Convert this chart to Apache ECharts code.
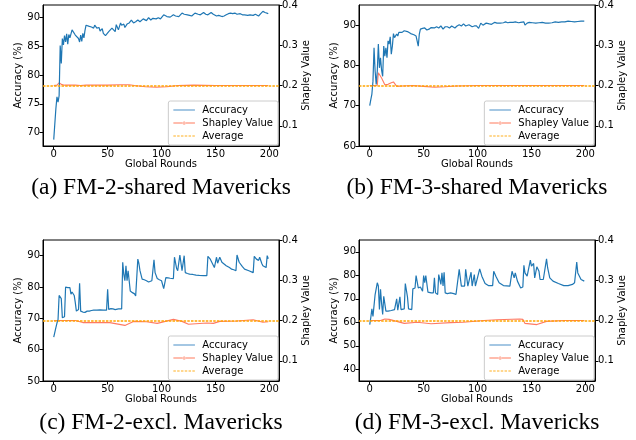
<!DOCTYPE html>
<html>
<head>
<meta charset="utf-8">
<script src="https://cdn.jsdelivr.net/npm/echarts@6/dist/echarts.min.js"></script>
<style>
html, body { margin: 0; padding: 0; background: #fff; }
#chart { width: 636px; height: 440px; }
</style>
</head>
<body>
<div id="chart"></div>
<script>
// tick labels
const xTicks = [0, 50, 100, 150, 200];
const shapTicks = [0.1, 0.2, 0.3, 0.4];
const accTicksA = [70, 75, 80, 85, 90];
const accTicksB = [60, 70, 80, 90];
const accTicksC = [50, 60, 70, 80, 90];
const accTicksD = [40, 50, 60, 70, 80, 90];

const legendNames = ['Accuracy', 'Shapley Value', 'Average'];
const captions = ['(a) FM-2-shared Mavericks', '(b) FM-3-shared Mavericks',
  '(c) FM-2-excl. Mavericks', '(d) FM-3-excl. Mavericks'];

// average shapley value (5 clients)
const avgShapley = 0.2;

// (a) FM-2-shared: [round, accuracy %]
const accA = [[0,68.8],[1,71.5],[2,74.2],[3,76.2],[4,75.3],[5,76.4],[6,85.1],[7,82],[8,86.3],[9,85.2],[10,86.8],[11,85.7],[12,87.1],[13,85.3],[14,87],[15,86.4],[16,86.2],[17,87.8],[18,87.5],[20,86.9],[21,86.6],[23,86.3],[24,85.7],[25,86.9],[26,85.8],[27,87.2],[28,86.4],[29,87.7],[30,88.6],[33,88.4],[35,88.3],[37,88.1],[38,88.6],[40,88.1],[42,88.2],[43,87.6],[45,88],[46,87.2],[48,86.8],[49,86.5],[51,87.5],[52,87.6],[54,88.1],[55,88.4],[57,87.5],[58,88.7],[60,87.8],[62,89],[63,88.6],[65,88.8],[66,88.2],[68,88.8],[70,89],[72,89.5],[74,89],[76,89.2],[78,89.5],[80,89.2],[83,89.7],[86,89.4],[88,89.9],[90,89.5],[92,89.8],[95,89.7],[97,89.9],[99,89.7],[100,89.6],[102,90.4],[105,90.1],[108,90],[111,90.4],[113,90.2],[116,90.1],[119,90.7],[121,90.5],[124,90.4],[126,90.3],[128,90.2],[131,90.7],[134,90.5],[136,90.4],[139,90.8],[141,90.5],[143,90.4],[146,90.8],[148,90.5],[151,90.2],[153,90.3],[156,90.1],[158,90.2],[160,90.4],[162,90.6],[164,90.7],[166,90.6],[168,90.7],[170,90.5],[173,90.6],[175,90.4],[177,90.4],[180,90.3],[182,90.4],[185,90.3],[187,90.5],[190,90.2],[192,90.6],[194,91],[196,90.8],[199,90.6]];
const shapA = [[0,0.2],[3,0.201],[5,0.207],[7,0.203],[10,0.201],[20,0.201],[25,0.2],[30,0.201],[40,0.201],[50,0.201],[60,0.202],[70,0.202],[75,0.2],[85,0.197],[95,0.196],[105,0.197],[115,0.2],[130,0.201],[150,0.2],[170,0.2],[199,0.2]];

// (b) FM-3-shared
const accB = [[0,70],[1,71.5],[2,72.9],[3,76.1],[4,84.4],[5,78.6],[6,75.3],[7,78.6],[8,85.3],[9,79.4],[10,81.9],[11,78.8],[12,77.3],[13,84.8],[14,82.3],[15,84.4],[16,81.9],[17,86.1],[18,85.3],[19,87.1],[20,82.8],[21,84.8],[22,87.9],[23,86.9],[24,87.3],[25,87.8],[26,87.3],[27,88.2],[28,87.9],[30,88.2],[32,88.6],[33,89],[35,88.4],[36,88.2],[38,87.9],[39,87.8],[41,87.6],[43,87.3],[44,86.9],[45,84.8],[46,87.8],[47,89],[49,89.2],[51,89.3],[53,88.8],[55,89],[57,89.4],[58,89.8],[60,89.3],[62,89.6],[64,89.3],[66,89.8],[68,89],[70,89.6],[72,89.6],[74,89.3],[76,89.8],[79,89.3],[81,89.8],[83,90.1],[85,89.8],[87,90.3],[89,89.8],[92,90.1],[95,89.6],[97,89.8],[99,89.8],[101,89.2],[103,90.5],[105,90],[108,90.5],[111,90.3],[113,90.2],[116,90.7],[118,90.5],[121,90.5],[124,90.6],[126,90.8],[128,90.6],[130,90.7],[133,90.7],[135,90.8],[138,90.6],[140,90.7],[143,90.8],[144,90],[146,90.5],[148,90.7],[151,90.6],[154,90.5],[157,90.6],[160,90.7],[163,90.5],[166,90.5],[169,90.6],[172,90.8],[175,90.7],[178,90.8],[181,90.8],[184,91],[187,90.9],[190,90.8],[193,90.9],[196,91],[199,91]];
const shapB = [[0,0.2],[5,0.2],[7,0.201],[8,0.232],[11,0.219],[14,0.202],[17,0.203],[20,0.207],[22,0.209],[25,0.198],[30,0.199],[40,0.2],[50,0.198],[60,0.196],[70,0.197],[80,0.199],[100,0.2],[150,0.2],[199,0.2]];

// (c) FM-2-excl.
const accC = [[0,64],[1,65.5],[2,67],[3,68.5],[4,69.6],[5,77.3],[6,76.9],[7,76.3],[8,70.2],[9,70.3],[10,70.5],[11,80],[12,80],[13,79.8],[14,79.8],[15,79.8],[16,77.7],[17,78.4],[18,77.8],[19,77.3],[20,75],[21,72.3],[22,72.5],[23,72.8],[24,81.2],[25,72.3],[27,72],[29,71.9],[31,72.3],[33,72.3],[35,72.5],[37,72.6],[40,72.6],[43,72.7],[46,72.6],[49,72.6],[50,79.3],[51,72.8],[53,73.1],[55,73],[57,72.8],[60,73],[63,73],[64,87.9],[65,84],[66,82],[67,86.8],[68,82],[69,85.2],[71,78.7],[73,78.2],[75,77.8],[76,77.1],[78,88.9],[79,87.5],[80,85.2],[82,82.5],[84,82.3],[86,82],[88,81.6],[89,81.4],[91,82],[93,88.7],[94,84.6],[96,82.7],[98,82.3],[100,82],[102,79.5],[104,83],[106,82.9],[108,82.8],[111,82.7],[112,89.5],[114,85.9],[115,85.2],[117,90.2],[119,85.2],[120,85],[121,90],[122,84.6],[124,84.3],[126,84.1],[129,84],[132,83.8],[135,83.7],[139,83.6],[142,83.6],[143,89.8],[145,89],[146,88.4],[149,86.2],[151,89.5],[152,87.6],[154,89.5],[156,87.9],[157,87.6],[160,86.8],[163,86.2],[165,85.7],[167,85.5],[169,85.2],[170,90.2],[172,87.9],[175,86.5],[177,85.7],[181,85.2],[185,84.6],[186,89.8],[188,88.9],[190,88.5],[191,89.5],[193,87.5],[194,86.8],[197,86.2],[198,90],[199,89]];
const shapC = [[0,0.2],[10,0.2],[20,0.2],[27,0.195],[40,0.195],[52,0.195],[66,0.188],[74,0.198],[86,0.197],[96,0.193],[111,0.203],[119,0.198],[125,0.191],[142,0.194],[148,0.193],[154,0.198],[170,0.199],[185,0.202],[194,0.196],[199,0.197]];

// (d) FM-3-excl.
const accD = [[0,59],[1,62],[2,65.7],[3,62.5],[4,62.3],[5,71.8],[6,71.8],[7,76.8],[8,75.4],[9,65.4],[10,74],[11,68],[12,63.3],[13,71],[14,70.3],[15,64.7],[17,64.7],[20,65],[23,65.4],[24,65],[25,70],[26,65.1],[27,65.4],[28,70.8],[29,65.4],[32,65.7],[33,76.5],[35,70.8],[36,65.7],[39,65.4],[40,74.2],[42,74.6],[43,79.9],[45,74.6],[47,75],[49,73.2],[50,79.9],[51,76.8],[52,79.9],[54,72.8],[57,72.5],[59,72.5],[60,78.9],[61,72.5],[63,71.8],[64,80.3],[66,76.1],[67,81],[68,75.4],[69,81.3],[70,72.5],[72,72.2],[75,72.5],[78,72.2],[80,71.8],[83,82.5],[85,75.4],[88,75.4],[89,82.5],[91,75.4],[94,81.3],[95,75.4],[97,80.3],[98,75.4],[102,82.7],[104,79.6],[107,76.5],[110,75.6],[114,75.6],[115,81.7],[117,79.6],[118,80.3],[120,76.8],[124,75.6],[130,75.4],[132,81.7],[134,78.9],[135,81],[137,77.5],[140,74.6],[142,75],[143,84.2],[144,81],[146,79.6],[149,86.4],[150,83.9],[152,85],[153,78.9],[155,83.6],[157,81.7],[158,78.2],[161,78.2],[164,87],[165,83.2],[167,78.9],[170,77.5],[175,76.5],[180,75.6],[184,75.6],[188,76.1],[190,76.8],[192,85.6],[193,81],[196,78.2],[199,77.5]];
const shapD = [[0,0.2],[10,0.2],[14,0.204],[18,0.203],[32,0.193],[44,0.196],[57,0.192],[75,0.195],[87,0.196],[106,0.2],[118,0.202],[139,0.204],[142,0.203],[144,0.193],[155,0.19],[164,0.198],[180,0.2],[199,0.2]];

const panels = [
  { acc: accA, shap: shapA, ticks: accTicksA, yMin: 67.7, yMax: 92.1, left: 43, top: 5 },
  { acc: accB, shap: shapB, ticks: accTicksB, yMin: 60, yMax: 95, left: 359, top: 5 },
  { acc: accC, shap: shapC, ticks: accTicksC, yMin: 50, yMax: 95, left: 43, top: 240 },
  { acc: accD, shap: shapD, ticks: accTicksD, yMin: 35, yMax: 95, left: 359, top: 240 }
];
const W = 236, H = 141;
const font = 'DejaVu Sans';
const txt = { fontFamily: font, fontSize: 10, color: '#000' };
const blk = { color: '#000', width: 1 };

// legend glyphs (line, line + dot, dashed line); tiny square at x=24 keeps the text offset
const pad = ' M24,4.4h0.01v0.01h-0.01z';
const iconLine = 'path://M0,3.4h21.6v1.2h-21.6z' + pad;
const iconDot = 'path://M0,3.4h21.6v1.2h-21.6z M10.8,2.4a1.6,1.6 0 1,0 0.01,0z' + pad;
const iconDash = 'path://M0,3.4h2.5v1.2h-2.5z M3.8,3.4h2.5v1.2h-2.5z M7.6,3.4h2.5v1.2h-2.5z M11.4,3.4h2.5v1.2h-2.5z M15.2,3.4h2.5v1.2h-2.5z M19,3.4h2.5v1.2h-2.5z' + pad;

const option = {
  animation: false,
  backgroundColor: '#fff',
  grid: [], xAxis: [], yAxis: [], series: [], legend: [], graphic: []
};

panels.forEach(function (p, i) {
  option.grid.push({
    left: p.left, top: p.top, width: W, height: H,
    show: true, borderColor: '#000', borderWidth: 1, backgroundColor: 'transparent'
  });
  option.xAxis.push({
    type: 'value', gridIndex: i, min: -9.95, max: 208.95,
    name: 'Global Rounds', nameLocation: 'middle', nameGap: 11, nameTextStyle: txt,
    axisLine: { show: true, onZero: false, lineStyle: blk },
    axisTick: { show: true, length: 3.5, customValues: xTicks, lineStyle: blk },
    axisLabel: { customValues: xTicks, margin: 3, ...txt },
    splitLine: { show: false }
  });
  // left: accuracy
  option.yAxis.push({
    type: 'value', gridIndex: i, position: 'left', min: p.yMin, max: p.yMax,
    name: 'Accuracy (%)', nameLocation: 'middle', nameRotate: 90, nameGap: 13, nameTextStyle: txt,
    axisLine: { show: true, onZero: false, lineStyle: blk },
    axisTick: { show: true, length: 3.5, customValues: p.ticks, lineStyle: blk },
    axisLabel: { customValues: p.ticks, margin: 3, ...txt },
    splitLine: { show: false }
  });
  // right: shapley value
  option.yAxis.push({
    type: 'value', gridIndex: i, position: 'right', min: 0.05, max: 0.4,
    name: 'Shapley Value', nameLocation: 'middle', nameRotate: 90, nameGap: 20, nameTextStyle: txt,
    axisLine: { show: true, onZero: false, lineStyle: blk },
    axisTick: { show: true, length: 3.5, customValues: shapTicks, lineStyle: blk },
    axisLabel: { customValues: shapTicks, margin: 3, formatter: function (v) { return v.toFixed(1); }, ...txt },
    splitLine: { show: false }
  });

  option.series.push({
    name: 'Shapley Value', type: 'line', xAxisIndex: i, yAxisIndex: 2 * i + 1,
    data: p.shap, symbol: 'none',
    lineStyle: { color: '#ff6347', width: 1.1, opacity: 0.85 }, itemStyle: { color: '#ff7a5c' }, z: 2
  });
  option.series.push({
    name: 'Average', type: 'line', xAxisIndex: i, yAxisIndex: 2 * i + 1,
    data: [], symbol: 'none',
    lineStyle: { color: '#ffa500', width: 1.5, type: [2.5, 1.2] }, itemStyle: { color: '#ffb020' }, z: 3,
    markLine: {
      silent: true, symbol: 'none', label: { show: false },
      lineStyle: { color: '#ffa500', width: 1.5, type: [2.5, 1.2], opacity: 1 },
      data: [{ yAxis: avgShapley }]
    }
  });
  option.series.push({
    name: 'Accuracy', type: 'line', xAxisIndex: i, yAxisIndex: 2 * i,
    data: p.acc, symbol: 'none',
    lineStyle: { color: '#1f77b4', width: 1.2 }, itemStyle: { color: '#4a90c8' }, z: 4
  });

  option.legend.push({
    data: [
      { name: legendNames[0], icon: iconLine },
      { name: legendNames[1], icon: iconDot },
      { name: legendNames[2], icon: iconDash }
    ],
    orient: 'vertical', selectedMode: false, symbolKeepAspect: true,
    right: 636 - (p.left + W) + 1, bottom: 440 - (p.top + H) + 1,
    itemWidth: 24, itemHeight: 9, itemGap: 3, padding: [4, 5, 4, 5],
    backgroundColor: 'rgba(255,255,255,0.8)', borderColor: '#ccc', borderWidth: 1, borderRadius: 2,
    textStyle: txt
  });

  option.graphic.push({
    type: 'text', x: p.left + W / 2, y: p.top + 183,
    style: {
      text: captions[i], font: '23.5px "Liberation Serif"', fill: '#000',
      align: 'center', verticalAlign: 'middle', textAlign: 'center', textVerticalAlign: 'middle'
    }
  });
});

const chart = echarts.init(document.getElementById('chart'), null, { renderer: 'canvas' });
chart.setOption(option);
</script>
</body>
</html>
